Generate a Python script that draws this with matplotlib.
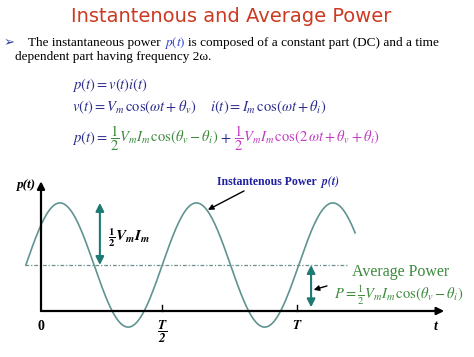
import numpy as np
import matplotlib
matplotlib.use("Agg")
import matplotlib.pyplot as plt

plt.rcParams['mathtext.fontset'] = 'stix'
plt.rcParams['font.family'] = ['Liberation Serif', 'DejaVu Sans']

# chart values (t in units of T, p in units of the average power)
avg_power = 1.0
half_vm_im = 1.35
p_period = 0.533
p_peak_t = 0.074
t_start, t_end = -0.059, 1.227
tick_pos = [0.473, 1.0]
tick_labels = [r'$\mathbfit{\dfrac{T}{2}}$', r'$\mathbfit{T}$']
avg_line = [-0.062, 1.2]

W, H = 474, 357
fig = plt.figure(figsize=(W / 100, H / 100), dpi=100)
ax = fig.add_axes([0, 0, 1, 1])
ax.set_xlim(-41 / 256, (W - 41) / 256)
ax.set_ylim(-(H - 311) / 46, 311 / 46)
ax.axis('off')
renderer = fig.canvas.get_renderer()

def fx(px):
    return px / W

def fy(py):
    return 1 - py / H

def run(x, y, pieces, gap=3, **kw):
    # place pieces of text one after another on a baseline, x/y in pixels
    for s, opts in pieces:
        t = fig.text(fx(x), fy(y), s, va='baseline', **kw, **opts)
        x += t.get_window_extent(renderer).width + gap

navy = '#2b2b8c'
green = '#3c8a3c'
magenta = '#c23bc2'
teal = '#1f7a74'
curve = '#5f9490'

# header
fig.text(fx(231), fy(16), 'Instantenous and Average Power', color='#cc3a22',
         fontsize=14, family='DejaVu Sans', ha='center', va='center')
fig.text(fx(4), fy(46), '\u27a2', color='#2b3fa0', fontsize=9.5, family='DejaVu Sans',
         va='baseline')
run(28, 46, [('The instantaneous power', {}),
             ('$p(t)$', {'color': '#2b3fd0'}),
             ('is composed of a constant part (DC) and a time', {})], fontsize=9.5)
fig.text(fx(15), fy(60), 'dependent part having frequency 2\u03c9.', fontsize=9.5,
         va='baseline')

# equations
fs = 10.5
fig.text(fx(72), fy(85), r'$p(t) = v(t)i(t)$', color=navy, fontsize=fs, va='center')
fig.text(fx(72), fy(107), r'$v(t) = V_m\,\cos(\omega t + \theta_v)$', color=navy,
         fontsize=fs, va='center')
fig.text(fx(210), fy(107), r'$i(t) = I_m\,\cos(\omega t + \theta_i)$', color=navy,
         fontsize=fs, va='center')
run(72, 142, [(r'$p(t) = $', {'color': navy}),
              (r'$\dfrac{1}{2}V_m I_m\,\cos(\theta_v - \theta_i)$', {'color': green}),
              (r'$+$', {'color': navy}),
              (r'$\dfrac{1}{2}V_m I_m\,\cos(2\,\omega t + \theta_v + \theta_i)$',
               {'color': magenta})], gap=2, fontsize=fs)

# axes
ax.annotate('', xy=(0, 2.82), xytext=(0, 0),
            arrowprops=dict(arrowstyle='-|>', color='black', lw=1.6,
                            mutation_scale=11, shrinkA=0, shrinkB=0))
ax.annotate('', xy=(1.575, 0), xytext=(0, 0),
            arrowprops=dict(arrowstyle='-|>', color='black', lw=1.6,
                            mutation_scale=11, shrinkA=0, shrinkB=0))
for tp, tl in zip(tick_pos, tick_labels):
    ax.plot([tp, tp], [0, 0.13], color='black', lw=1)
    ax.text(tp, -0.17, tl, fontsize=9.5, ha='center', va='top')
ax.text(0, -0.2, '0', fontsize=10, fontweight='bold', ha='center', va='top')
ax.text(1.54, -0.2, 't', fontsize=10, fontweight='bold', style='italic',
        ha='center', va='top')
ax.text(-0.02, 2.73, 'p(t)', fontsize=9.5, fontweight='bold', style='italic',
        ha='right', va='center')

# curve and average line
t = np.linspace(t_start, t_end, 400)
p = avg_power + half_vm_im * np.cos(2 * np.pi * (t - p_peak_t) / p_period)
ax.plot(t, p, color=curve, lw=1.2)
ax.plot(avg_line, [avg_power, avg_power], color='#6a8f8c', lw=0.9, ls='-.',
        dashes=(3, 1.5, 1, 1.5))

# amplitude arrows
ax.annotate('', xy=(0.23, avg_power + half_vm_im), xytext=(0.23, avg_power),
            arrowprops=dict(arrowstyle='<|-|>', color=teal, lw=1.5,
                            mutation_scale=12, shrinkA=0, shrinkB=0))
ax.text(0.262, 1.59, r'$\mathbf{\frac{1}{2}}\mathbfit{V_m I_m}$', fontsize=11,
        va='center', ha='left')
ax.annotate('', xy=(1.055, 0.08), xytext=(1.055, avg_power),
            arrowprops=dict(arrowstyle='<|-|>', color=teal, lw=1.5,
                            mutation_scale=12, shrinkA=0, shrinkB=0))

# callouts
ax.annotate('', xy=(0.652, 2.2), xytext=(0.793, 2.61),
            arrowprops=dict(arrowstyle='-|>', color='black', lw=1,
                            mutation_scale=8, shrinkA=0, shrinkB=0))
run(217, 185, [('Instantenous Power', {'fontweight': 'bold'}),
               (r'$\mathbfit{p(t)}$', {})], color='#2020a0', fontsize=8.5)
ax.annotate('', xy=(1.065, 0.46), xytext=(1.117, 0.545),
            arrowprops=dict(arrowstyle='-|>', color='black', lw=1,
                            mutation_scale=8, shrinkA=0, shrinkB=0))
fig.text(fx(401), fy(272), 'Average Power', color=green, fontsize=11.5,
         ha='center', va='center')
fig.text(fx(334), fy(295), r'$P = \frac{1}{2}V_m I_m\,\cos(\theta_v - \theta_i)$',
         color=green, fontsize=10.5, va='center')

fig.savefig('out.png', dpi=100)
